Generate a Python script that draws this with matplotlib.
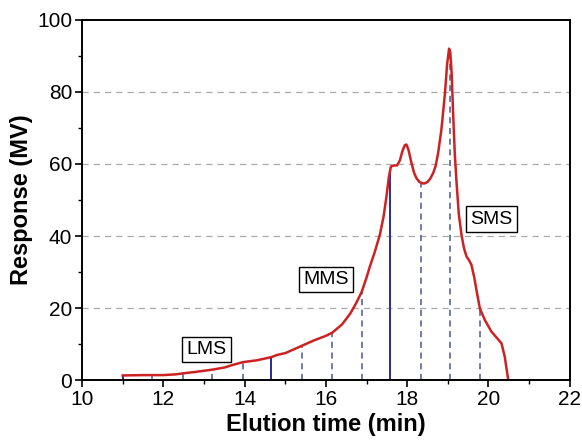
import numpy as np
import matplotlib.pyplot as plt
from matplotlib.ticker import MultipleLocator

plt.rcParams['font.family'] = ['Liberation Sans', 'DejaVu Sans']

# elution curve
tiempo = [11.0, 11.5, 12.0, 12.3, 12.5, 12.8, 13.2, 13.5, 13.7, 13.96, 14.3, 14.66,
          14.8, 15.0, 15.4, 15.7, 16.0, 16.16, 16.4, 16.6, 16.75, 16.88, 17.0,
          17.08, 17.2, 17.33, 17.42, 17.49, 17.55, 17.6, 17.68, 17.75, 17.82,
          17.88, 17.94, 17.98, 18.03, 18.1, 18.17, 18.23, 18.3, 18.38, 18.43,
          18.5, 18.57, 18.64, 18.7, 18.76, 18.84, 18.93, 18.98, 19.03, 19.06,
          19.09, 19.13, 19.17, 19.21, 19.27, 19.34, 19.4, 19.46, 19.52, 19.58,
          19.65, 19.72, 19.79, 19.91, 20.07, 20.2, 20.32, 20.4, 20.48]
respuesta = [1.3, 1.4, 1.4, 1.6, 1.9, 2.3, 2.9, 3.5, 4.2, 5.0, 5.5, 6.4,
             7.0, 7.5, 9.5, 11.0, 12.3, 13.2, 15.5, 18.5, 21.5, 24.5, 28.5,
             31.5, 35.5, 40.5, 45.5, 51.0, 56.5, 59.3, 59.6, 59.6, 61.0,
             63.5, 65.2, 65.4, 64.0, 60.5, 57.5, 56.0, 55.0, 54.6, 54.6,
             55.0, 56.0, 57.5, 59.5, 63.0, 69.4, 79.7, 87.5, 92.0, 91.0,
             86.0, 74.0, 63.0, 55.5, 46.0, 40.0, 36.5, 34.3, 33.3, 32.0,
             28.5, 24.0, 19.8, 16.7, 13.5, 11.8, 10.2, 6.5, 0.5]

cortes_solidos = [11.0, 14.66, 17.57]
cortes_dash = [11.71, 12.49, 13.2, 13.96, 15.4, 16.16, 16.88, 18.33, 19.05, 19.8]

etiquetas = ['LMS', 'MMS', 'SMS']
etiq_x = [13.07, 16.0, 20.07]
etiq_y = [8.5, 27.9, 44.7]

fig = plt.figure(figsize=(5.82, 4.41), dpi=100)
ax = fig.add_axes([0.141, 0.138, 0.838, 0.817])

for y in [20, 40, 60, 80]:
    ax.axhline(y, color='#aaaaaa', ls=(0, (5, 4)), lw=0.9, zorder=0)

for xc in cortes_dash:
    ax.vlines(xc, 0, np.interp(xc, tiempo, respuesta), color='#4a5890',
              ls=(0, (4, 3)), lw=1.1, zorder=1)
for xc in cortes_solidos:
    ax.vlines(xc, 0, np.interp(xc, tiempo, respuesta), color='#2a2a9a',
              lw=1.4, zorder=1)

ax.plot(tiempo, respuesta, color='#cc2222', lw=1.8, zorder=2)

for t, x, y in zip(etiquetas, etiq_x, etiq_y):
    ax.text(x, y, t, fontsize=14, ha='center', va='center',
            bbox=dict(boxstyle='square,pad=0.22', fc='white', ec='black', lw=1.0))

ax.set_xlim(10, 22)
ax.set_ylim(0, 100)
ax.xaxis.set_major_locator(MultipleLocator(2))
ax.xaxis.set_minor_locator(MultipleLocator(1))
ax.yaxis.set_major_locator(MultipleLocator(20))
ax.yaxis.set_minor_locator(MultipleLocator(10))
ax.tick_params(which='major', length=5, width=1.2, labelsize=15, pad=2)
ax.tick_params(which='minor', length=3, width=1.0)
for s in ax.spines.values():
    s.set_linewidth(1.4)

ax.set_xlabel('Elution time (min)', fontsize=17, fontweight='bold', labelpad=3)
ax.set_ylabel('Response (MV)', fontsize=17, fontweight='bold', labelpad=3)

fig.savefig('out.png', dpi=100)
